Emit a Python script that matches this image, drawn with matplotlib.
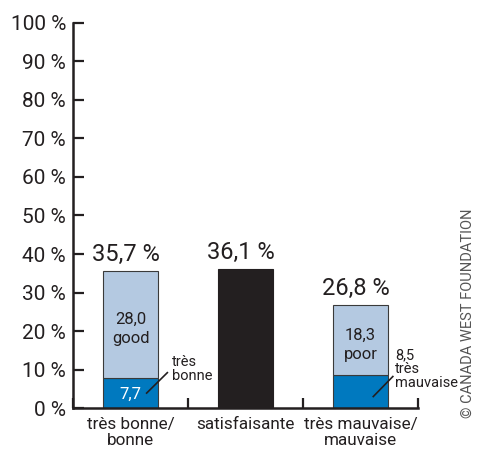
import numpy as np
from matplotlib import pyplot as plt

plt.rcParams['font.family'] = ['Roboto', 'DejaVu Sans']

LIGHT = '#B4C9E1'
DARK = '#0079BF'
BLACK = '#231F20'
INK = '#231F20'

categories = ['très bonne/\nbonne', 'satisfaisante', 'très mauvaise/\nmauvaise']
totals = [35.7, 36.1, 26.8]
upper_part = [28.0, None, 18.3]
lower_part = [7.7, None, 8.5]
upper_words = ['good', None, 'poor']
yticks = np.arange(0, 101, 10)


def fr(v):
    return f'{v:.1f}'.replace('.', ',')


fig = plt.figure(figsize=(4.82, 4.57), dpi=100)
ax = fig.add_axes([0.1515, 0.107, 0.716, 0.843])

x = np.array([0.5, 1.5, 2.5])
w = 0.48
edge = dict(edgecolor='#3a3a3a', linewidth=0.8)

# stacked bars for the two outer groups, solid bar in the middle
for i in (0, 2):
    ax.bar(x[i], lower_part[i], w, color=DARK, **edge)
    ax.bar(x[i], upper_part[i], w, bottom=lower_part[i], color=LIGHT, **edge)
ax.bar(x[1], totals[1], w, color=BLACK, edgecolor=BLACK, linewidth=0.8)

for xi, t in zip(x, totals):
    ax.text(xi - 0.04, t + 1.2, fr(t) + ' %', ha='center',
            va='bottom', fontsize=17, color=INK)

# labels inside the light segments
for i in (0, 2):
    mid = lower_part[i] + upper_part[i] / 2 - 1.2
    ax.text(x[i], mid, fr(upper_part[i]) + '\n' + upper_words[i],
            ha='center', va='center', fontsize=12, color=INK, linespacing=1.3)

ax.text(x[0], lower_part[0] / 2 - 0.3, fr(lower_part[0]), ha='center',
        va='center', fontsize=12, color='white')
ax.plot([0.64, 0.82], [3.9, 9.2], color=INK, lw=1.2)
ax.text(0.86, 6.6, 'très\nbonne', ha='left', va='bottom', fontsize=10.5,
        color=INK, linespacing=1.0)

ax.plot([2.61, 2.78], [3.0, 8.2], color=INK, lw=1.2)
ax.text(2.8, 4.6, fr(lower_part[2]) + '\ntrès\nmauvaise',
        ha='left', va='bottom', fontsize=10.5, color=INK, linespacing=1.0)

ax.set_xlim(0, 3)
ax.set_ylim(0, 100)
ax.set_yticks(yticks)
ax.set_yticklabels([f'{v} %' for v in yticks], fontsize=15, color=INK)
ax.set_xticks([0, 1, 2, 3])
ax.set_xticklabels([])
ax.tick_params(axis='y', direction='in', length=8, width=1.6, color=INK, pad=5)
ax.tick_params(axis='x', direction='in', length=7, width=1.6, color=INK)
for xi, c in zip(x, categories):
    ax.text(xi, -2.4, c, ha='center', va='top', fontsize=12.3, color=INK,
            linespacing=1.05)

for s in ('top', 'right'):
    ax.spines[s].set_visible(False)
for s in ('left', 'bottom'):
    ax.spines[s].set_linewidth(1.8)
    ax.spines[s].set_color(INK)

fig.text(0.97, 0.315, '© CANADA WEST FOUNDATION', rotation=90, ha='center',
         va='center', fontsize=10.5, color='#555555')

fig.savefig('out.png', dpi=100)
